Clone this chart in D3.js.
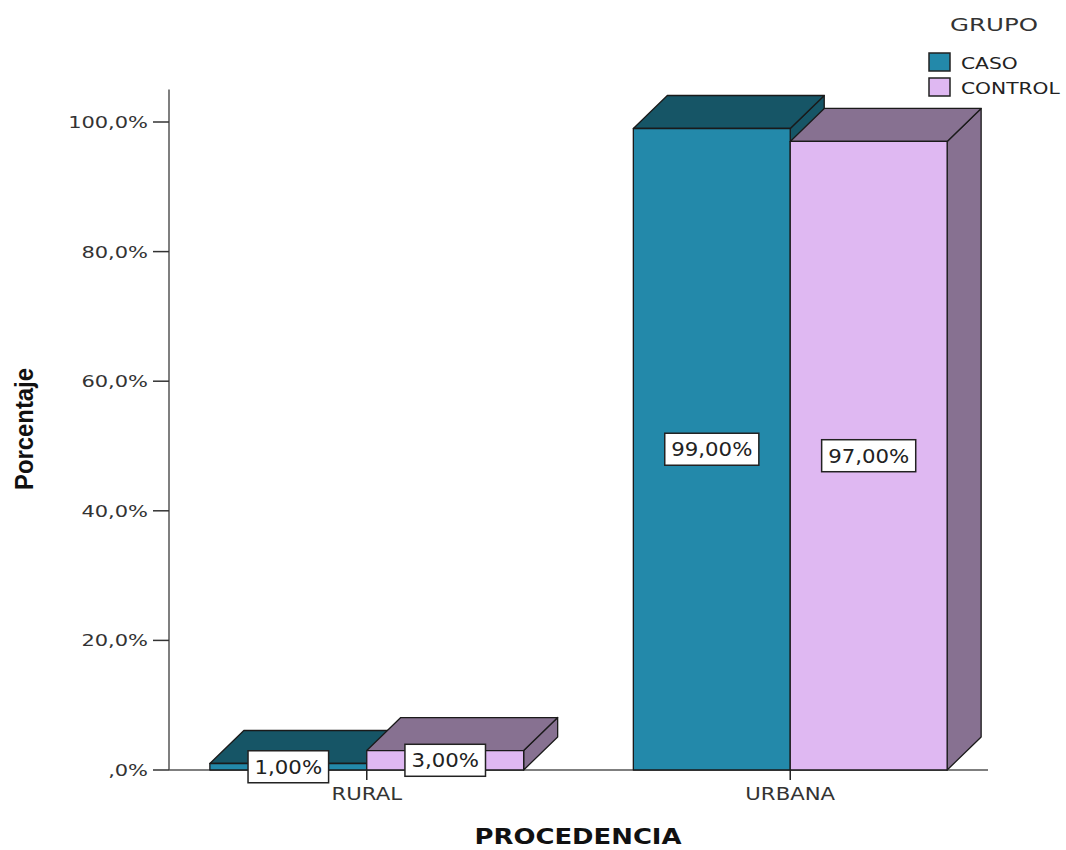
<!DOCTYPE html>
<html><head><meta charset="utf-8">
<script src="https://cdn.jsdelivr.net/npm/d3@7"></script>
<style>body{margin:0;background:#fff}svg{display:block}</style>
</head><body>
<svg id="c" width="1066" height="850"></svg>
<script>
const categories = ["RURAL", "URBANA"];
const groups = ["CASO", "CONTROL"];
const casoValues = [1.0, 99.0];
const controlValues = [3.0, 97.0];
const yTicks = [0, 20, 40, 60, 80, 100];
const yTickLabels = [",0%", "20,0%", "40,0%", "60,0%", "80,0%", "100,0%"];
const valueLabels = [["1,00%", "99,00%"], ["3,00%", "97,00%"]];

const frontColor = {CASO: "#2389aa", CONTROL: "#dfb8f2"};
const darkColor = {CASO: "#165566", CONTROL: "#877191"};

const svg = d3.select("#c");
const FONT = "DejaVu Sans, Verdana, sans-serif";

const x0 = d3.scaleBand().domain(categories).range([169, 988]).paddingInner(0.259).paddingOuter(0.0965);
const x1 = d3.scaleBand().domain(groups).range([0, x0.bandwidth()]);
const y = d3.scaleLinear().domain([0, 105]).range([770, 89.6]);
const DX = 34, DY = -33;

// helper for horizontally stretched text
function stext(parent, x, yy, str, opts) {
  const g = parent.append("g").attr("transform", `translate(${x},${yy}) ${opts.rotate ? "rotate(" + opts.rotate + ")" : ""} scale(${opts.sx || 1},1)`);
  const t = g.append("text").text(str)
    .attr("font-family", opts.family || FONT)
    .attr("font-size", opts.size)
    .attr("font-weight", opts.weight || "normal")
    .attr("fill", opts.fill || "#222")
    .attr("text-anchor", opts.anchor || "start");
  if (opts.length) t.attr("textLength", opts.length / (opts.sx || 1)).attr("lengthAdjust", "spacingAndGlyphs");
  return t;
}

// Y axis
const yAxisG = svg.append("g").attr("transform", "translate(169,0)");
yAxisG.append("line").attr("x1", 0).attr("x2", 0).attr("y1", y(0)).attr("y2", y(105)).attr("stroke", "#555").attr("stroke-width", 1.5);
yTicks.forEach((t, i) => {
  yAxisG.append("line").attr("x1", -16).attr("x2", 0).attr("y1", y(t)).attr("y2", y(t)).attr("stroke", "#333").attr("stroke-width", 1.5);
  stext(yAxisG, -21, y(t) + 6, yTickLabels[i], {size: 16, sx: 1.31, anchor: "end", fill: "#333"});
});

// X axis
svg.append("line").attr("x1", 169).attr("x2", 988).attr("y1", y(0)).attr("y2", y(0)).attr("stroke", "#555").attr("stroke-width", 1.5);

// bars
const series = [casoValues, controlValues];
categories.forEach((cat, ci) => {
  groups.forEach((grp, gi) => {
    const v = series[gi][ci];
    const xl = x0(cat) + x1(grp), xr = xl + x1.bandwidth();
    const yt = y(v), yb = y(0);
    const g = svg.append("g").attr("stroke", "#1a1a1a").attr("stroke-width", 1.3).attr("stroke-linejoin", "round");
    // side
    g.append("path").attr("d", `M${xr},${yt}L${xr + DX},${yt + DY}L${xr + DX},${yb + DY}L${xr},${yb}Z`).attr("fill", darkColor[grp]);
    // top
    g.append("path").attr("d", `M${xl},${yt}L${xl + DX},${yt + DY}L${xr + DX},${yt + DY}L${xr},${yt}Z`).attr("fill", darkColor[grp]);
    // front
    g.append("rect").attr("x", xl).attr("y", yt).attr("width", xr - xl).attr("height", yb - yt).attr("fill", frontColor[grp]);
  });
});

// x tick marks and labels
categories.forEach(cat => {
  const cx = x0(cat) + x0.bandwidth() / 2;
  svg.append("line").attr("x1", cx).attr("x2", cx).attr("y1", y(0)).attr("y2", y(0) + 10).attr("stroke", "#222").attr("stroke-width", 1.5);
  stext(svg, cx, 800, cat, {size: 17, sx: 1.25, anchor: "middle", fill: "#333"});
});

// value labels
categories.forEach((cat, ci) => {
  groups.forEach((grp, gi) => {
    const v = series[gi][ci];
    const cx = x0(cat) + x1(grp) + x1.bandwidth() / 2;
    const cy = (y(v) + y(0)) / 2;
    const lg = svg.append("g");
    const rect = lg.append("rect");
    const t = stext(lg, cx, cy + 7, valueLabels[gi][ci], {size: 19, sx: 1.12, anchor: "middle", fill: "#222"});
    const w = t.node().getComputedTextLength() * 1.12 + 13;
    rect.attr("x", cx - w / 2).attr("y", cy - 16).attr("width", w).attr("height", 32)
      .attr("fill", "#fff").attr("stroke", "#222").attr("stroke-width", 1.5);
  });
});

// axis titles
stext(svg, 578, 844, "PROCEDENCIA", {size: 21, weight: "bold", anchor: "middle", fill: "#111", length: 207});
stext(svg, 33, 429, "Porcentaje", {size: 25, weight: "bold", anchor: "middle", fill: "#111", rotate: -90, family: "Liberation Sans Narrow, Arial Narrow, sans-serif", length: 122});

// legend
stext(svg, 994, 31, "GRUPO", {size: 18, anchor: "middle", fill: "#333", length: 88});
groups.forEach((grp, i) => {
  const yy = 53 + i * 25;
  svg.append("rect").attr("x", 929).attr("y", yy).attr("width", 21).attr("height", 18)
    .attr("fill", frontColor[grp]).attr("stroke", "#222").attr("stroke-width", 1.5);
  stext(svg, 961, yy + 16, grp, {size: 15, sx: 1.35, fill: "#222"});
});
</script>
</body></html>
